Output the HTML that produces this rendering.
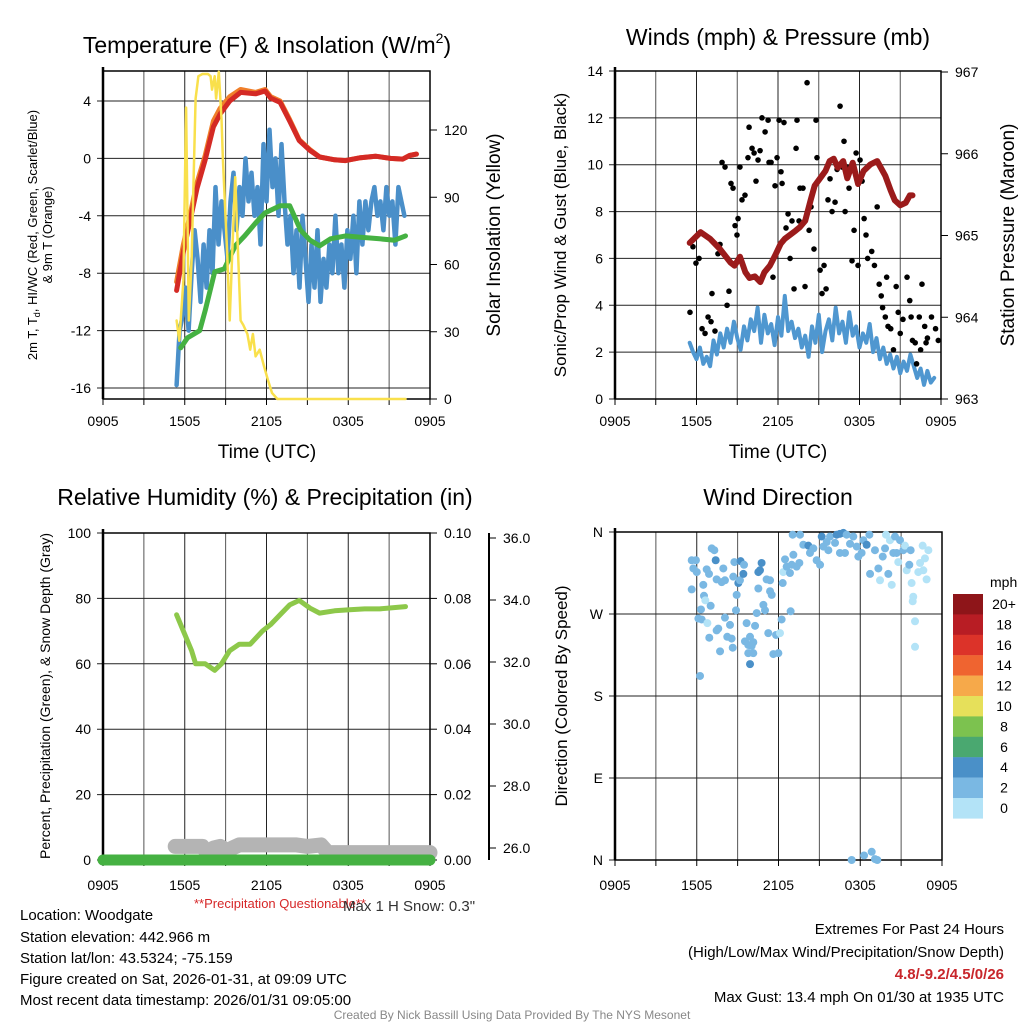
<!DOCTYPE html>
<html><head><meta charset="utf-8"><style>
body{margin:0;background:#fff;width:1024px;height:1024px;overflow:hidden}
svg{font-family:"Liberation Sans",sans-serif}
</style></head><body>
<svg id="s" width="1024" height="1024" xmlns="http://www.w3.org/2000/svg">
<g font-size="23" text-anchor="middle" fill="#000">
<text x="267" y="53">Temperature (F) &amp; Insolation (W/m<tspan font-size="14" dy="-10">2</tspan><tspan dy="10">)</tspan></text>
<text x="778" y="45">Winds (mph) &amp; Pressure (mb)</text>
<text x="265" y="505">Relative Humidity (%) &amp; Precipitation (in)</text>
<text x="778" y="505">Wind Direction</text>
</g>
<g font-size="19" text-anchor="middle">
<text x="267" y="458">Time (UTC)</text>
<text x="778" y="458">Time (UTC)</text>
<text transform="translate(500,235) rotate(-90)">Solar Insolation (Yellow)</text>
<text transform="translate(566,235) rotate(-90)" font-size="17">Sonic/Prop Wind &amp; Gust (Blue, Black)</text>
<text transform="translate(1014,235) rotate(-90)">Station Pressure (Maroon)</text>
<text transform="translate(567,696) rotate(-90)" font-size="17">Direction (Colored By Speed)</text>
<text transform="translate(50,696) rotate(-90)" font-size="14">Percent, Precipitation (Green), &amp; Snow Depth (Gray)</text>
<text transform="translate(37,235) rotate(-90)" font-size="13">2m T, T<tspan font-size="9" dy="3">d</tspan><tspan dy="-3">, HI/WC (Red, Green, Scarlet/Blue)</tspan></text>
<text transform="translate(52,235) rotate(-90)" font-size="13">&amp; 9m T (Orange)</text>
</g>
<g id="plots"></g>
<g font-size="15" fill="#000">
<text x="20" y="920">Location: Woodgate</text>
<text x="20" y="942">Station elevation: 442.966 m</text>
<text x="20" y="963">Station lat/lon: 43.5324; -75.159</text>
<text x="20" y="984">Figure created on Sat, 2026-01-31, at 09:09 UTC</text>
<text x="20" y="1005">Most recent data timestamp: 2026/01/31 09:05:00</text>
</g>
<text x="280" y="908" font-size="13" fill="#d62728" text-anchor="middle">**Precipitation Questionable**</text>
<text x="343" y="911" font-size="15" fill="#333">Max 1 H Snow: 0.3"</text>
<g font-size="15" text-anchor="end">
<text x="1004" y="934">Extremes For Past 24 Hours</text>
<text x="1004" y="957">(High/Low/Max Wind/Precipitation/Snow Depth)</text>
<text x="1004" y="979" font-weight="bold" fill="#c8262b">4.8/-9.2/4.5/0/26</text>
<text x="1004" y="1002">Max Gust: 13.4 mph On 01/30 at 1935 UTC</text>
</g>
<text x="512" y="1019" font-size="12" fill="#888" text-anchor="middle">Created By Nick Bassill Using Data Provided By The NYS Mesonet</text>
</svg>
<script>
// ---- data (hours since 0905 UTC) ----
const xTickLabels=["0905","1505","2105","0305","0905"];
const tempTime=[5.4,5.9,6.4,6.9,7.5,8.1,8.6,9.3,10.1,11.2,11.9,12.3,13.0,13.7,14.4,15.2,15.9,17.0,17.8,18.9,20.0,21.1,22.0,22.5,23.0];
const tempVals=[-9.2,-6.5,-4.3,-2.1,-0.1,2.2,3.1,4.0,4.6,4.5,4.7,4.2,3.9,2.6,1.25,0.55,0.1,-0.1,-0.15,0.05,0.15,0,-0.05,0.2,0.3];
const temp9Vals=[-8.6,-6.0,-3.9,-1.7,0.2,2.6,3.5,4.3,4.8,4.6,4.8,4.3,4.0,2.7,1.3,0.6,0.1,-0.1,-0.15,0.05,0.15,0,-0.05,0.2,0.3];
const dewTime=[5.7,6.2,7.1,7.5,8.2,8.9,9.7,10.4,11.2,11.9,13.0,13.7,14.5,15.2,15.9,16.7,17.8,18.9,20.3,21.4,22.2];
const dewVals=[-13.2,-12.5,-12,-10.6,-7.9,-7.7,-6.1,-5.4,-4.5,-3.8,-3.3,-3.3,-5.0,-5.7,-6.1,-5.6,-5.4,-5.5,-5.6,-5.7,-5.4];
const wcStart=5.4, wcStep=0.22;
const wcVals=[-15.8,-12,-11,-9,-12,-8,-5,-7,-10,-6,-9,-5,-8,-2,-6,-3,-5,-7,-3,-1,-5,-2,-4,0,-3,-1,-4,-2,-6,1,-3,2,-2,0,-4,1,-3,-6,-4,-8,-5,-9,-4,-7,-10,-6,-9,-5,-10,-7,-9,-6,-8,-4,-8,-6,-9,-5,-7,-4,-8,-3,-6,-3,-5,-3,-2,-4,-3,-5,-2,-4,-3,-6,-2,-3,-4];
const solTime=[5.4,5.6,5.9,6.1,6.3,6.5,6.8,7.0,7.3,7.7,7.9,8.0,8.2,8.3,8.5,8.7,8.8,9.1,9.3,9.5,9.7,9.9,10.1,10.3,10.6,10.8,11.0,11.2,11.5,11.8,12.1,12.4,12.8,13.2,22.2];
const solVals=[35,26,53,130,35,62,134,144,145,145,144,138,144,134,146,125,107,67,35,67,99,67,35,33,29,22,29,19,22,15,8.5,2.7,0,0,0];
const gustTime=[5.52,5.74,5.96,6.19,6.41,6.63,6.85,7.07,7.14,7.36,7.58,7.73,7.88,8.1,8.25,8.39,8.54,8.69,8.84,8.98,9.06,9.2,9.35,9.57,9.79,9.87,10.09,10.24,10.38,10.53,10.68,10.82,11.05,11.27,11.34,11.49,11.63,11.78,11.93,12.08,12.22,12.3,12.44,12.59,12.74,12.89,13.03,13.18,13.33,13.4,13.55,13.62,13.84,13.99,14.14,14.29,14.43,14.65,14.8,14.87,15.1,15.24,15.39,15.54,15.68,15.83,15.98,16.2,16.35,16.57,16.72,16.86,16.94,17.08,17.23,17.45,17.6,17.75,17.89,18.04,18.19,18.34,18.48,18.6,18.9,19.1,19.3,19.45,19.6,19.7,19.9,20.0,20.1,20.3,20.5,20.7,20.85,21.0,21.2,21.5,21.7,21.8,21.9,22.1,22.2,22.4,22.5,22.6,22.8,22.9,23.0,23.3,23.6,23.8];
const gustVals=[3.7,6.5,5.8,6.0,3.0,2.8,3.5,3.3,4.5,2.9,6.2,6.6,10.1,9.9,4.0,4.6,9.2,9.0,7.4,7.0,7.7,9.9,8.5,8.7,10.3,11.6,10.7,10.5,9.3,10.2,10.6,12.0,11.4,11.9,10.1,10.1,5.2,9.1,10.3,11.9,9.7,9.2,11.8,7.3,7.9,6.0,7.6,4.7,10.7,11.9,7.6,9.0,9.0,4.8,13.5,7.2,8.2,6.4,11.9,10.3,5.5,4.5,5.7,4.7,8.5,9.4,8.0,8.4,9.8,12.5,9.9,11.0,8.0,9.9,9.0,5.9,7.2,10.5,5.7,10.2,9.3,7.7,7.0,6.0,6.3,5.7,8.2,4.9,4.4,3.9,3.5,5.2,3.1,3.0,2.1,4.8,3.7,2.8,3.4,5.2,4.2,3.5,2.5,2.4,1.5,3.5,2.1,4.9,3.1,2.4,2.6,3.5,3.0,2.5];
const sonicStart=5.5, sonicStep=0.25;
const sonicVals=[2.4,2.0,1.7,2.2,1.5,1.8,1.4,2.5,1.9,2.8,2.2,3.0,2.4,3.3,2.6,2.1,3.1,2.5,3.4,2.9,3.9,2.4,3.6,2.8,3.2,2.3,3.5,2.7,4.4,2.9,3.3,2.6,3.0,2.2,2.7,1.8,3.1,2.4,3.6,2.0,2.9,3.4,2.5,3.9,2.8,3.3,2.4,3.7,2.7,3.1,2.2,2.8,2.4,3.2,2.0,2.6,1.7,2.2,1.5,1.9,1.3,1.8,1.1,1.6,1.2,1.9,1.4,0.9,1.3,0.6,1.2,0.7,0.9];
const presTime=[5.5,6.3,7.0,7.7,8.5,8.8,9.2,9.6,9.9,10.3,10.7,11.0,11.4,11.8,12.2,12.5,13.3,13.6,14.0,14.4,14.7,15.1,15.5,15.8,16.1,16.4,16.8,17.1,17.5,17.9,18.3,18.8,19.3,19.5,19.9,20.3,20.6,21.0,21.4,21.7,21.9];
const presVals=[964.91,965.04,964.96,964.84,964.67,964.63,964.74,964.55,964.48,964.5,964.43,964.55,964.63,964.76,964.9,964.96,965.06,965.1,965.18,965.43,965.61,965.7,965.79,965.91,965.94,965.83,965.91,965.7,965.89,965.63,965.79,965.87,965.91,965.85,965.73,965.55,965.43,965.37,965.4,965.49,965.49];
const rhTime=[5.4,5.9,6.5,6.8,7.5,8.2,8.7,9.3,10.0,10.8,11.7,12.3,13.0,13.7,14.4,15.2,15.9,17.0,18.1,19.2,20.3,22.2];
const rhVals=[75,70,64,60,60,58,60,64,66,66,70,72,75,78,79.4,77,75.5,76.2,76.5,76.8,76.8,77.5];
const precipTime=[0,24];
const precipVals=[0,0];
const snowTime=[5.3,6.5,7.3,7.7,8.1,8.6,9.2,9.5,10.0,13.0,14.2,15.0,16.0,16.5,24.0];
const snowVals=[26.05,26.05,26.05,25.8,26.0,26.05,25.9,26.0,26.1,26.1,26.1,26.05,26.1,25.85,25.85];
const dirTime=[5.63,5.94,5.75,6.0,5.63,6.48,6.73,6.90,6.53,6.63,6.31,6.12,6.36,6.78,6.24,6.92,7.10,7.29,7.39,7.95,7.46,7.83,8.07,7.02,8.07,7.58,7.46,8.44,8.24,8.56,7.71,8.64,8.68,9.05,9.17,8.93,8.88,8.76,9.22,9.42,9.47,9.66,9.54,9.78,9.91,10.15,10.03,9.78,10.15,9.91,10.28,10.40,10.52,10.52,10.64,10.76,10.89,11.01,11.13,11.38,11.38,11.50,11.25,11.82,12.11,11.62,11.99,12.23,12.31,12.35,12.48,12.60,12.84,12.97,13.09,12.89,13.33,13.53,13.04,13.58,13.82,14.19,14.31,14.56,14.80,15.05,15.17,15.29,15.54,15.66,15.78,16.15,16.27,16.51,16.76,17.00,17.25,17.49,16.51,16.88,17.74,17.86,18.10,18.23,18.47,18.67,18.72,19.08,19.33,19.45,19.65,19.82,19.89,20.06,20.18,20.31,20.43,20.55,20.67,20.79,20.92,21.16,21.28,21.41,21.60,21.70,21.77,21.85,21.89,22.02,22.02,22.26,22.39,22.58,22.75,22.63,22.87,23.00,17.37,18.28,18.84,19.08,19.25];
const dirDeg=[329,329,320,316,297,302,319,314,290,285,275,265,264,260,202,244,342,340,329,320,308,305,307,279,266,254,252,258,245,243,229,233,311,304,307,291,274,327,328,314,324,260,240,236,245,239,235,227,227,215,257,271,298,316,318,326,280,274,308,307,295,291,249,247,249,226,227,264,304,316,330,322,315,324,335,273,322,326,357,357,346,345,337,342,329,324,355,344,349,340,355,348,357,358,359,357,347,355,337,337,344,333,337,351,346,357,314,340,320,307,333,342,357,314,351,302,337,355,337,327,351,340,345,318,324,340,304,284,289,262,234,316,326,345,331,318,308,340,0,5,9,1,0];
const dirSpeed=[2,2,2,2,2,2,2,2,2,0.5,2,2,2,0.5,2,2,2,2,4,2,2,2,2,2,2,2,2,2,2,2,2,2,2,4,2,2,2,2,4,4,2,2,2,2,2,2,2,2,2,4,2,2,2,4,4,4,2,2,2,2,2,2,2,2,0.5,2,2,2,2,0.5,2,2,2,2,2,2,2,2,2,2,2,4,2,2,2,2,4,2,2,2,2,2,4,4,4,2,2,2,2,2,2,2,2,2,4,2,2,2,2,0.5,2,2,0.5,2,0.5,0.5,2,2,2,0.5,2,2,0.5,0.5,2,2,0.5,0.5,0.5,0.5,0.5,0.5,0.5,0.5,0.5,0.5,0.5,0.5,2,2,2,2,2];
const legendLabels=["20+","18","16","14","12","10","8","6","4","2","0"];
const legendColors=["#8e1519","#b81d24","#dc3329","#ef6430","#f6a94a","#e6e05a","#7cc24f","#4aa870","#4a90c8","#7ab8e3","#b3e3f7"];

// ---- drawing ----
const NS="http://www.w3.org/2000/svg";
const root=document.getElementById('plots');
function el(tag,attrs,parent,text){const e=document.createElementNS(NS,tag);for(const k in attrs)e.setAttribute(k,attrs[k]);if(text!==undefined)e.textContent=text;(parent||root).appendChild(e);return e;}
function lin(d0,d1,p0,p1){return v=>p0+(v-d0)*(p1-p0)/(d1-d0);}
function poly(xs,ys,xf,yf,color,w,name,g){
  const pts=xs.map((t,i)=>xf(t).toFixed(1)+','+yf(ys[i]).toFixed(1)).join(' ');
  const p=el('polyline',{points:pts,fill:'none',stroke:color,'stroke-width':w,'stroke-linejoin':'round','stroke-linecap':'round'},g);
  
  
  return p;
}
function frame(name,L,R,T,B,xf,hGrid,yfGrid,leftTicks,leftLabels,yfl,rightTicks,rightLabels,yfr,labelY){
  const g=el('g',{});
  
  
  for(let h=0;h<=24;h+=3){const x=xf(h);el('line',{x1:x,x2:x,y1:T,y2:B,stroke:h%6?'#555':'#222','stroke-width':1},g);
    el('line',{x1:x,x2:x,y1:B,y2:B+6,stroke:'#000'},g);}
  hGrid.forEach(v=>{const y=yfGrid(v);el('line',{x1:L-6,x2:R,y1:y,y2:y,stroke:'#222','stroke-width':1},g);});
  xTickLabels.forEach((s,i)=>{const t=el('text',{x:xf(i*6),y:labelY,'font-size':14,'text-anchor':'middle'},g,s);
    });
  leftTicks.forEach((v,i)=>{const t=el('text',{x:L-12,y:yfl(v)+5,'font-size':14,'text-anchor':'end'},g,leftLabels[i]);
    });
  if(rightTicks)rightTicks.forEach((v,i)=>{const y=yfr(v);el('line',{x1:R,x2:R+7,y1:y,y2:y,stroke:'#000'},g);
    const t=el('text',{x:R+14,y:y+5,'font-size':14},g,rightLabels[i]);
    });
  el('rect',{x:L,y:T,width:R-L,height:B-T,fill:'none',stroke:'#000','stroke-width':1.5},g);
  el('line',{x1:L,x2:L,y1:T-4,y2:B,stroke:'#000','stroke-width':2.5},g);
  return g;
}
// Panel 1
{const xf=lin(0,24,103,430),yT=lin(-16,4,388,101),yS=lin(0,120,399,130);
 const g=frame('temperature-panel',103,430,71,399,xf,[4,0,-4,-8,-12,-16],yT,[4,0,-4,-8,-12,-16],["4","0","-4","-8","-12","-16"],yT,[0,30,60,90,120],["0","30","60","90","120"],yS,426);
 poly(tempTime,temp9Vals,xf,yT,'#f07f2a',5,'temp-9m-line',g);
 poly(tempTime,tempVals,xf,yT,'#d42a25',5,'temp-2m-line',g);
 poly(wcVals.map((v,i)=>wcStart+i*wcStep),wcVals,xf,yT,'#4a8fc9',4.5,'windchill-line',g);
 poly(dewTime,dewVals,xf,yT,'#45b142',5,'dewpoint-line',g);
 poly(solTime,solVals,xf,yS,'#f9e04c',2.5,'solar-line',g);}
// Panel 2
{const xf=lin(0,24,615,941),yW=lin(0,14,399,71),yP=lin(963,967,399,72);
 const g=frame('winds-panel',615,941,71,399,xf,[0,2,4,6,8,10,12,14],yW,[0,2,4,6,8,10,12,14],["0","2","4","6","8","10","12","14"],yW,[963,964,965,966,967],["963","964","965","966","967"],yP,426);
 poly(sonicVals.map((v,i)=>sonicStart+i*sonicStep),sonicVals,xf,yW,'#4f97d0',4,'sonic-wind-line',g);
 gustTime.forEach((t,i)=>{const c=el('circle',{cx:xf(t),cy:yW(gustVals[i]),r:2.8,fill:'#000'},g);
   });
 poly(presTime,presVals,xf,yP,'#9b1b1b',6,'pressure-line',g);}
// Panel 3
{const xf=lin(0,24,103,430),yR=lin(0,100,860,533),yPr=lin(0,0.1,860,533),ySn=lin(26,36,848,538);
 const g=frame('humidity-panel',103,430,533,860,xf,[0,20,40,60,80,100],yR,[0,20,40,60,80,100],["0","20","40","60","80","100"],yR,[0,0.02,0.04,0.06,0.08,0.1],["0.00","0.02","0.04","0.06","0.08","0.10"],yPr,890);
 el('line',{x1:489,x2:489,y1:533,y2:860,stroke:'#000','stroke-width':2},g);
 [26,28,30,32,34,36].forEach(v=>{const y=ySn(v);el('line',{x1:489,x2:496,y1:y,y2:y,stroke:'#000'},g);
   const t=el('text',{x:503,y:y+5,'font-size':14},g,v.toFixed(1));});
 poly(snowTime,snowVals,xf,ySn,'#b4b4b4',15,'snow-depth-line',g);
 poly(precipTime,precipVals,xf,yPr,'#45b142',11,'precip-line',g);
 poly(rhTime,rhVals,xf,yR,'#8dc84a',5,'rh-line',g);}
// Panel 4
{const xf=lin(0,24,615,942),yD=lin(0,360,860,532);
 const g=frame('direction-panel',615,942,532,860,xf,[0,90,180,270,360],yD,[0,90,180,270,360],["N","E","S","W","N"],yD,null,null,null,890);
 dirTime.forEach((t,i)=>{const s=dirSpeed[i];const idx=Math.min(10,Math.floor((s+1)/2));
   const c=el('circle',{cx:xf(t),cy:yD(dirDeg[i]),r:4,fill:legendColors[10-idx]},g);
   });
 const lg=el('g',{},root);
 
 el('text',{x:990,y:587,'font-size':14},lg,'mph');
 legendLabels.forEach((s,i)=>{const y=594+i*20.4;el('rect',{x:953,y:y,width:30,height:20.6,fill:legendColors[i]},lg);
   el('text',{x:1004,y:y+15,'font-size':14,'text-anchor':'middle'},lg,s);});}
</script>
</body></html>
